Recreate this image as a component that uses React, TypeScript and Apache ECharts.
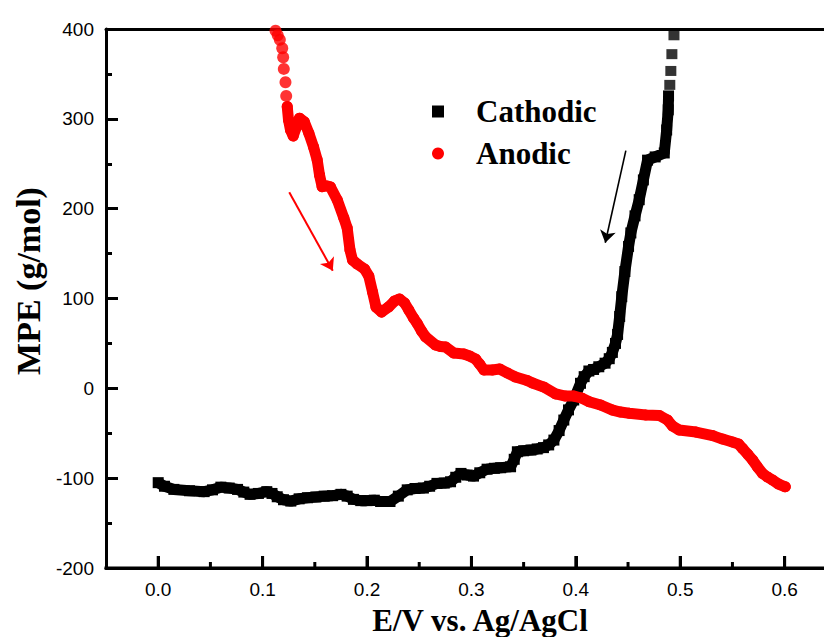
import React, { useEffect, useRef } from "react";
import * as echarts from "echarts";

// x: E/V vs. Ag/AgCl, y: MPE (g/mol)
const cathodicDense: [number, number][] = [
  [0.0, -105], [0.006, -109], [0.015, -112.5], [0.03, -114], [0.044, -115],
  [0.052, -113], [0.06, -110], [0.068, -111], [0.076, -112.5], [0.082, -115.5],
  [0.088, -118], [0.096, -117], [0.104, -115], [0.109, -117], [0.114, -120.7],
  [0.12, -124], [0.127, -125.5], [0.135, -123], [0.143, -121.8], [0.151, -121],
  [0.159, -120], [0.167, -119.5], [0.175, -118], [0.181, -120], [0.187, -123.6],
  [0.194, -125], [0.2, -125], [0.207, -124.5], [0.213, -126], [0.222, -126],
  [0.23, -120], [0.2385, -113], [0.246, -111.5], [0.254, -111], [0.26, -109],
  [0.267, -105.8], [0.274, -105.5], [0.28, -104], [0.285, -99], [0.29, -94.7],
  [0.296, -96.5], [0.302, -97.7], [0.308, -94], [0.315, -90], [0.322, -89],
  [0.328, -88.4], [0.3375, -87.3], [0.341, -79], [0.344, -70.6], [0.35, -69.5],
  [0.357, -68.7], [0.363, -67.5], [0.369, -66], [0.374, -63], [0.379, -57.6],
  [0.384, -47], [0.3885, -35.3], [0.393, -24], [0.398, -13], [0.4045, 5.6],
  [0.408, 13], [0.4125, 19.3], [0.417, 21], [0.422, 24], [0.428, 28],
  [0.432, 33], [0.435, 40], [0.438, 50], [0.44, 60], [0.442, 80],
  [0.444, 102], [0.447, 130], [0.4505, 158], [0.4527, 173], [0.4567, 192],
  [0.4607, 210], [0.4647, 232], [0.4687, 254], [0.476, 257.6], [0.4847, 262],
  [0.487, 287.6], [0.4885, 310], [0.4888, 325.5],
];
const cathodicSparse: [number, number][] = [
  [0.49, 337.8], [0.491, 353.3], [0.492, 372], [0.494, 393],
];

const anodicSparse: [number, number][] = [
  [0.1105, 401], [0.1124, 398], [0.1145, 393], [0.1165, 388], [0.1188, 378.6],
  [0.1197, 368.6], [0.1203, 355.6], [0.1219, 340.8], [0.1226, 325.5],
];
const anodicMain: [number, number][] = [
  [0.1236, 313.6], [0.1248, 298.8], [0.1267, 287.6], [0.1293, 281], [0.132, 290],
  [0.1353, 300.7], [0.14, 296.5], [0.1443, 284], [0.1488, 268.7], [0.1523, 254.2],
  [0.1545, 237.5], [0.157, 224.5], [0.1612, 225.3], [0.165, 224.2], [0.1715, 209.7],
  [0.1778, 189.6], [0.181, 178.5], [0.1837, 154], [0.1861, 142.9], [0.1906, 138.4],
  [0.1976, 132.9], [0.2017, 125], [0.2053, 107.2], [0.2086, 90.5], [0.2139, 85],
  [0.2206, 90.5], [0.2263, 97.2], [0.231, 99.5], [0.236, 95], [0.24, 87.2],
  [0.2445, 78.3], [0.248, 72.4], [0.2522, 63.8], [0.256, 57.5], [0.2656, 48.2],
  [0.2704, 46.5], [0.2752, 46], [0.2831, 39.3], [0.2927, 38.2], [0.2982, 36],
  [0.304, 32.6], [0.3078, 27], [0.312, 20.4], [0.32, 20.4], [0.327, 21.5],
  [0.3346, 17], [0.3422, 12.6], [0.3534, 8.7], [0.3585, 5.9], [0.3693, 1.4],
  [0.3808, -6.3], [0.39, -8.6], [0.398, -8.6], [0.4055, -10.8], [0.4128, -14.9],
  [0.4237, -18.6], [0.4352, -24.2], [0.4428, -26.4], [0.4511, -27.8], [0.467, -29.7],
  [0.48, -30.3], [0.4878, -35.3], [0.4926, -42], [0.499, -46.4], [0.515, -48.7],
  [0.531, -52.6], [0.5405, -56.5], [0.55, -59.8], [0.5558, -62], [0.5597, -67],
  [0.5645, -73.2], [0.5693, -79.8], [0.574, -87.6], [0.5788, -94.7], [0.5836, -98.8],
  [0.5884, -102], [0.5942, -106.6], [0.6006, -109.6],
];

const redArrow: [number, number][] = [[0.1255, 218.3], [0.1672, 131]];
const blackArrow: [number, number][] = [[0.4479, 264.6], [0.4282, 162.1]];

const xMajorValues = [0, 0.1, 0.2, 0.3, 0.4, 0.5, 0.6];
const xMinorValues = [0.05, 0.15, 0.25, 0.35, 0.45, 0.55];
const seriesNames = ["Cathodic", "Anodic"];
const xTitle = "E/V vs. Ag/AgCl";
const yTitle = "MPE (g/mol)";

export default function App() {
  const ref = useRef<HTMLDivElement>(null);
  useEffect(() => {
    if (!ref.current) return;
    const chart = echarts.init(ref.current, null, { renderer: "svg" });
    const labelFont = { color: "#000", fontSize: 19, fontFamily: "Liberation Sans, Arial, sans-serif" };
    const titleFont = "bold 31px 'Liberation Serif', 'Times New Roman', serif";
    const xMin = -0.05;
    const xMax = 0.6377;
    const yMin = -200;
    const titles: any[] = [
      {
        type: "text",
        x: 28,
        y: 281,
        rotation: Math.PI / 2,
        style: { text: yTitle, font: "bold 34px 'Liberation Serif', 'Times New Roman', serif", fill: "#000", textAlign: "center", textVerticalAlign: "middle" },
      },
      {
        type: "text",
        x: 480,
        y: 620,
        style: { text: xTitle, font: titleFont, fill: "#000", textAlign: "center", textVerticalAlign: "middle" },
      },
    ];
    chart.setOption({
      animation: false,
      backgroundColor: "#fff",
      grid: { left: 106, right: 0, top: 29, bottom: 69 },
      legend: {
        orient: "vertical",
        left: 427,
        top: 91,
        itemWidth: 12,
        itemHeight: 12,
        itemGap: 11,
        selectedMode: false,
        data: [
          { name: seriesNames[0], icon: "rect" },
          { name: seriesNames[1], icon: "circle" },
        ],
        textStyle: {
          color: "#000",
          fontSize: 31,
          lineHeight: 31,
          fontWeight: "bold",
          fontFamily: "Liberation Serif, Times New Roman, serif",
          padding: [0, 0, 0, 27],
        },
      },
      xAxis: [
        {
          type: "value",
          min: xMin,
          max: xMax,
          axisLine: { show: true, onZero: false, lineStyle: { color: "#000", width: 3 } },
          splitLine: { show: false },
          axisTick: { show: true, inside: true, length: 12, customValues: xMajorValues, lineStyle: { width: 3, color: "#000" } },
          axisLabel: { ...labelFont, margin: 12, customValues: xMajorValues, formatter: (v: number) => v.toFixed(1) },
        },
        {
          type: "value",
          position: "top",
          min: xMin,
          max: xMax,
          axisLine: { show: true, onZero: false, lineStyle: { color: "#000", width: 3 } },
          splitLine: { show: false },
          axisTick: { show: false },
          axisLabel: { show: false },
        },
      ],
      yAxis: {
        type: "value",
        min: yMin,
        max: 400,
        interval: 100,
        axisLine: { show: true, onZero: false, lineStyle: { color: "#000", width: 3 } },
        splitLine: { show: false },
        axisTick: { show: true, inside: true, length: 12, lineStyle: { width: 3, color: "#000" } },
        minorTick: { show: true, splitNumber: 2, length: 6, lineStyle: { width: 3, color: "#000" } },
        axisLabel: { ...labelFont, margin: 12 },
      },
      graphic: titles,
      series: [
        {
          name: seriesNames[0],
          type: "line",
          data: cathodicDense,
          symbol: "rect",
          symbolSize: 11,
          showSymbol: true,
          itemStyle: { color: "#000" },
          lineStyle: { color: "#000", width: 11, join: "round" },
          emphasis: { disabled: true },
          z: 2,
          markLine: {
            silent: true,
            symbol: ["none", "arrow"],
            symbolSize: 12,
            label: { show: false },
            lineStyle: { color: "#000", width: 1.6, type: "solid" },
            data: [[{ coord: blackArrow[0] }, { coord: blackArrow[1] }]],
          },
        },
        {
          name: seriesNames[0],
          type: "scatter",
          data: cathodicSparse,
          symbol: "rect",
          symbolSize: [11, 10],
          itemStyle: { color: "#000" },
          emphasis: { disabled: true },
          z: 2,
        },
        {
          name: seriesNames[1],
          type: "line",
          data: anodicMain,
          symbol: "circle",
          symbolSize: 11,
          showSymbol: true,
          itemStyle: { color: "#ff0000" },
          lineStyle: { color: "#ff0000", width: 11, join: "round", cap: "round" },
          emphasis: { disabled: true },
          z: 3,
          markLine: {
            silent: true,
            symbol: ["none", "arrow"],
            symbolSize: 12,
            label: { show: false },
            lineStyle: { color: "#ff0000", width: 2, type: "solid" },
            data: [[{ coord: redArrow[0] }, { coord: redArrow[1] }]],
          },
        },
        {
          name: seriesNames[1],
          type: "scatter",
          data: anodicSparse,
          symbol: "circle",
          symbolSize: 12,
          itemStyle: { color: "#ff0000" },
          emphasis: { disabled: true },
          z: 3,
        },
      ],
    });

    // Bottom frame line and its ticks, placed through the chart's own scales.
    const px = (v: number) => chart.convertToPixel({ xAxisIndex: 0 }, v) as number;
    const yb = chart.convertToPixel({ yAxisIndex: 0 }, yMin) as number;
    if (isFinite(yb)) {
      const stroke = { stroke: "#000", lineWidth: 3 };
      const frame: any[] = [
        { type: "line", z: 100, shape: { x1: px(xMin) - 1.5, y1: yb, x2: px(xMax) + 2, y2: yb }, style: stroke },
        ...xMajorValues.map((v) => ({ type: "line", z: 100, shape: { x1: px(v), y1: yb, x2: px(v), y2: yb - 12 }, style: stroke })),
        ...xMinorValues.map((v) => ({ type: "line", z: 100, shape: { x1: px(v), y1: yb, x2: px(v), y2: yb - 6 }, style: stroke })),
      ];
      chart.setOption({ graphic: [...titles, ...frame] });
    }
    return () => chart.dispose();
  }, []);
  return <div ref={ref} style={{ position: "fixed", left: 0, top: 0, width: 824, height: 637 }} />;
}
